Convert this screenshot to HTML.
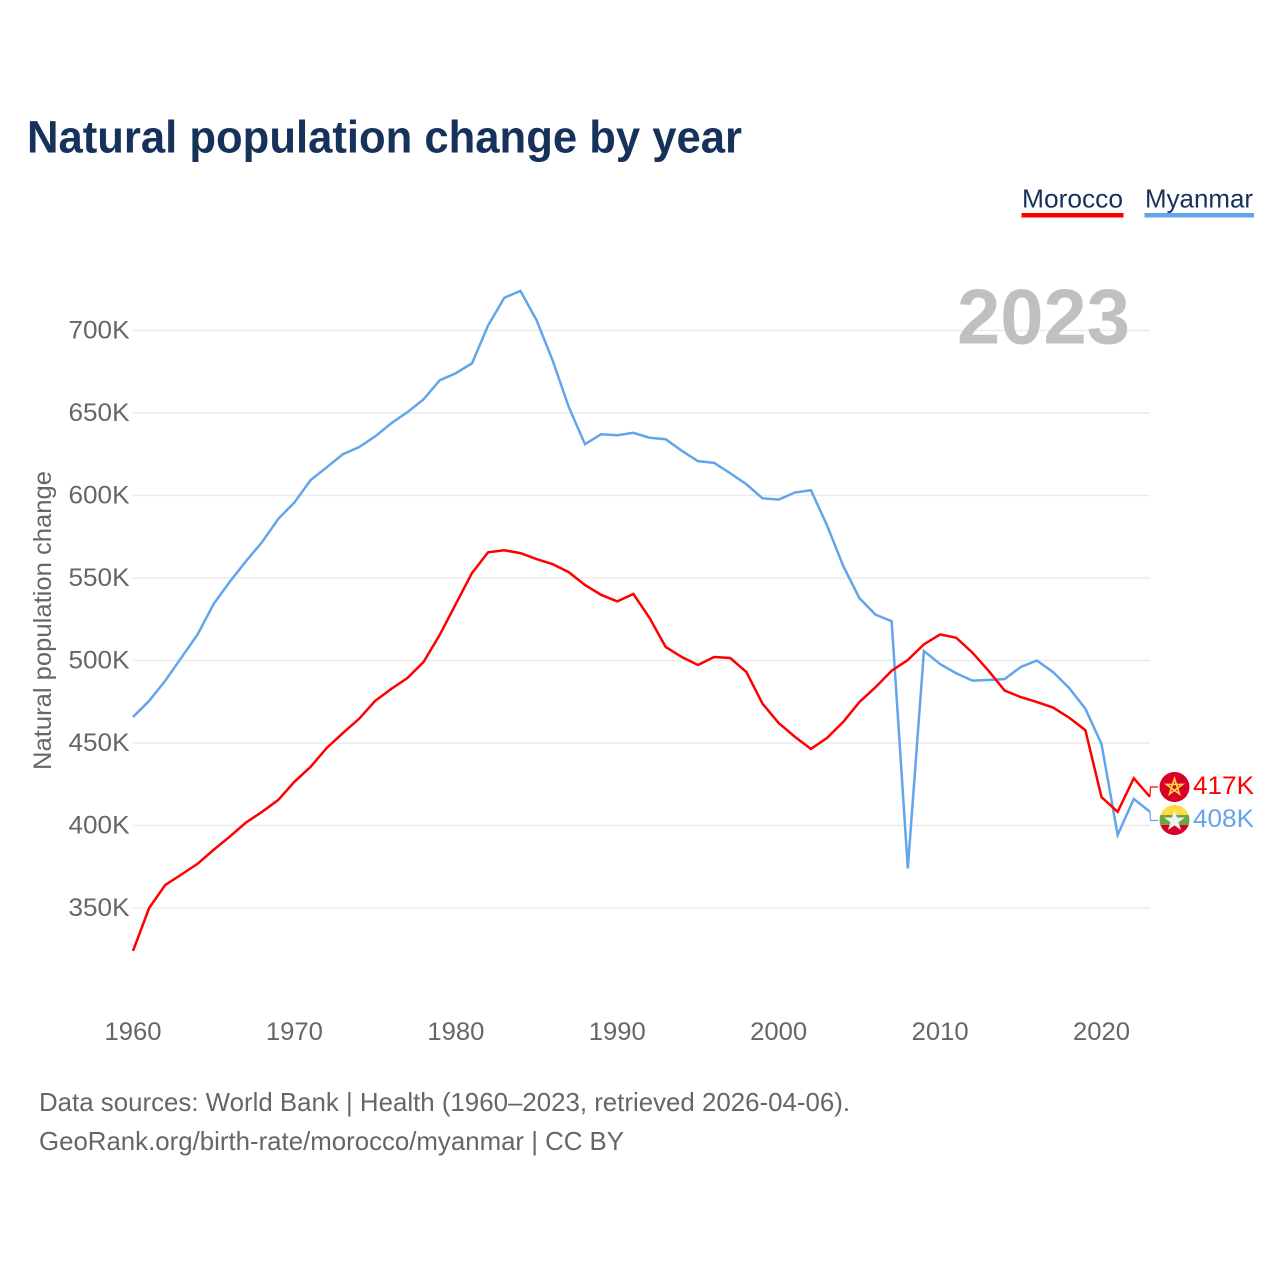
<!DOCTYPE html>
<html lang="en">
<head>
<meta charset="utf-8">
<title>Natural population change by year</title>
<style>
html,body{margin:0;padding:0;background:#fff;}
svg{display:block;font-family:"Liberation Sans",sans-serif;}
</style>
</head>
<body>
<svg id="chart" xmlns="http://www.w3.org/2000/svg" width="1280" height="1280" viewBox="0 0 1280 1280">
  <rect width="1280" height="1280" fill="#fff"/>
  <text x="27" y="152.5" font-size="45" font-weight="700" fill="#17325a" textLength="715" lengthAdjust="spacingAndGlyphs">Natural population change by year</text>

  <g>
    <g>
      <text x="1022" y="207.5" font-size="26" fill="#17325a" textLength="101" lengthAdjust="spacingAndGlyphs">Morocco</text>
      <rect x="1021.5" y="213" width="102" height="4.5" fill="#ff0000"/>
    </g>
    <g>
      <text x="1145" y="207.5" font-size="26" fill="#17325a" textLength="108" lengthAdjust="spacingAndGlyphs">Myanmar</text>
      <rect x="1144.5" y="213" width="109.5" height="4.5" fill="#62a5ec"/>
    </g>
  </g>

  <g id="grid"></g>
  <g id="yticks"></g>
  <g id="xticks"></g>

  <text transform="translate(51,770) rotate(-90)" x="0" y="0" font-size="25" fill="#666" textLength="299" lengthAdjust="spacingAndGlyphs">Natural population change</text>

  <text x="957" y="343.5" font-size="78" font-weight="700" fill="#c0c0c0" textLength="173" lengthAdjust="spacingAndGlyphs">2023</text>

  <g id="series"></g>

  <g id="end-markers"></g>

  <g>
    <circle cx="1174.5" cy="787" r="15" fill="#d80027"/>
    <polygon points="1174.5,778.5 1179.5,794 1166.4,784.4 1182.6,784.4 1169.5,794" fill="none" stroke="#ffda44" stroke-width="1.6" stroke-linejoin="miter"/>
  </g>
  <g>
    <clipPath id="myanmar-clip"><circle cx="1174.5" cy="820" r="15"/></clipPath>
    <g clip-path="url(#myanmar-clip)">
      <rect x="1159" y="805" width="31" height="10" fill="#ffda44"/>
      <rect x="1159" y="815" width="31" height="10" fill="#6da544"/>
      <rect x="1159" y="825" width="31" height="11" fill="#d80027"/>
    </g>
    <polygon points="1174.5,810 1177,817.5 1185,817.5 1178.6,822.3 1181,830 1174.5,825.4 1168,830 1170.4,822.3 1164,817.5 1172,817.5" fill="#f0f0f0"/>
  </g>

  <text x="39" y="1111" font-size="26" fill="#666" textLength="811" lengthAdjust="spacingAndGlyphs">Data sources: World Bank | Health (1960–2023, retrieved 2026-04-06).</text>
  <text x="39" y="1150" font-size="26" fill="#666" textLength="585" lengthAdjust="spacingAndGlyphs">GeoRank.org/birth-rate/morocco/myanmar | CC BY</text>
</svg>
<script>
const startYear = 1960;
const moroccoValues = [324,350,364,370.3,376.8,385.3,393.3,401.8,408.3,415.5,426.5,435.5,447,456,464.6,475.5,482.8,489.4,499.1,515.5,534.3,553,565.6,566.8,565.1,561.5,558.4,553.5,545.8,539.8,535.8,540.3,525.8,508.2,502.1,497.3,502.1,501.5,493,473.8,462.1,453.8,446.4,453.1,462.8,474.8,483.8,493.8,500.3,509.8,515.8,513.8,504.8,493.8,481.8,477.8,474.8,471.5,465.3,457.8,417.2,408.3,428.6,417.4];
const myanmarValues = [465.8,475.5,487.8,501.8,515.8,534.3,547.8,560.2,571.8,585.8,595.8,609.3,617.1,625,629.3,635.8,643.8,650.5,658.3,669.8,674.1,680.1,703.1,719.8,724,706.3,681.8,653.5,631.1,637.1,636.5,638,635,634.1,627.1,620.8,619.8,613.5,606.8,598.3,597.5,601.8,603.2,581.8,557.3,537.8,527.8,523.8,374,505.8,497.8,492.3,487.8,488.2,488.8,496.1,500,493,483.3,470.8,449.4,394.3,416.1,408.3];
const yTickValues = [350,400,450,500,550,600,650,700];
const xTickValues = [1960,1970,1980,1990,2000,2010,2020];

const SVG_NS = 'http://www.w3.org/2000/svg';
function xScale(year){ return 133 + (year - 1960) * (1101.5 - 133) / 60; }
function yScale(v){ return 908 + (v - 350) * (330.5 - 908) / 350; }
function make(tag, parent, attrs){
  const el = document.createElementNS(SVG_NS, tag);
  for (const k in attrs) el.setAttribute(k, attrs[k]);
  parent.appendChild(el);
  return el;
}
function fmt(v){ return Math.round(v) + 'K'; }

const grid = document.getElementById('grid');
const yticks = document.getElementById('yticks');
yTickValues.forEach(function(v){
  const line = make('line', grid, {x1:133, x2:1150, y1:yScale(v), y2:yScale(v), stroke:'#ebebeb', 'stroke-width':1.5});
  
  
  const t = make('text', yticks, {x:129.5, y:yScale(v)+8, 'text-anchor':'end', 'font-size':25, fill:'#666', textLength:61, lengthAdjust:'spacingAndGlyphs'});
  
  
  t.textContent = fmt(v);
});

const xticks = document.getElementById('xticks');
xTickValues.forEach(function(y){
  const t = make('text', xticks, {x:xScale(y), y:1040, 'text-anchor':'middle', 'font-size':25, fill:'#666', textLength:57, lengthAdjust:'spacingAndGlyphs'});
  
  
  t.textContent = y;
});

function pathFor(values){
  return values.map(function(v,i){ return (i ? 'L' : 'M') + xScale(startYear + i).toFixed(2) + ' ' + yScale(v).toFixed(2); }).join(' ');
}
const series = document.getElementById('series');
const myanmarLine = make('path', series, {d:pathFor(myanmarValues), fill:'none', stroke:'#62a5ec', 'stroke-width':2.5, 'stroke-linejoin':'miter'});


const moroccoLine = make('path', series, {d:pathFor(moroccoValues), fill:'none', stroke:'#ff0000', 'stroke-width':2.5, 'stroke-linejoin':'miter'});



const markers = document.getElementById('end-markers');
const endX = xScale(startYear + moroccoValues.length - 1);
const moroccoEnd = moroccoValues[moroccoValues.length - 1];
const myanmarEnd = myanmarValues[myanmarValues.length - 1];

const moroccoConn = make('path', markers, {d:'M'+endX+' '+yScale(moroccoEnd)+' L'+(endX+0.5)+' 787 L1158 787', fill:'none', stroke:'#ff0000', 'stroke-width':1.2});


const myanmarConn = make('path', markers, {d:'M'+endX+' '+yScale(myanmarEnd)+' L'+(endX+0.5)+' 820.5 L1158 820.5', fill:'none', stroke:'#62a5ec', 'stroke-width':1.2});



const moroccoLabel = make('text', markers, {x:1193, y:794, 'font-size':25, fill:'#ff0000', textLength:61, lengthAdjust:'spacingAndGlyphs'});


moroccoLabel.textContent = fmt(moroccoEnd);
const myanmarLabel = make('text', markers, {x:1193, y:827, 'font-size':25, fill:'#62a5ec', textLength:61, lengthAdjust:'spacingAndGlyphs'});


myanmarLabel.textContent = fmt(myanmarEnd);
</script>
</body>
</html>
